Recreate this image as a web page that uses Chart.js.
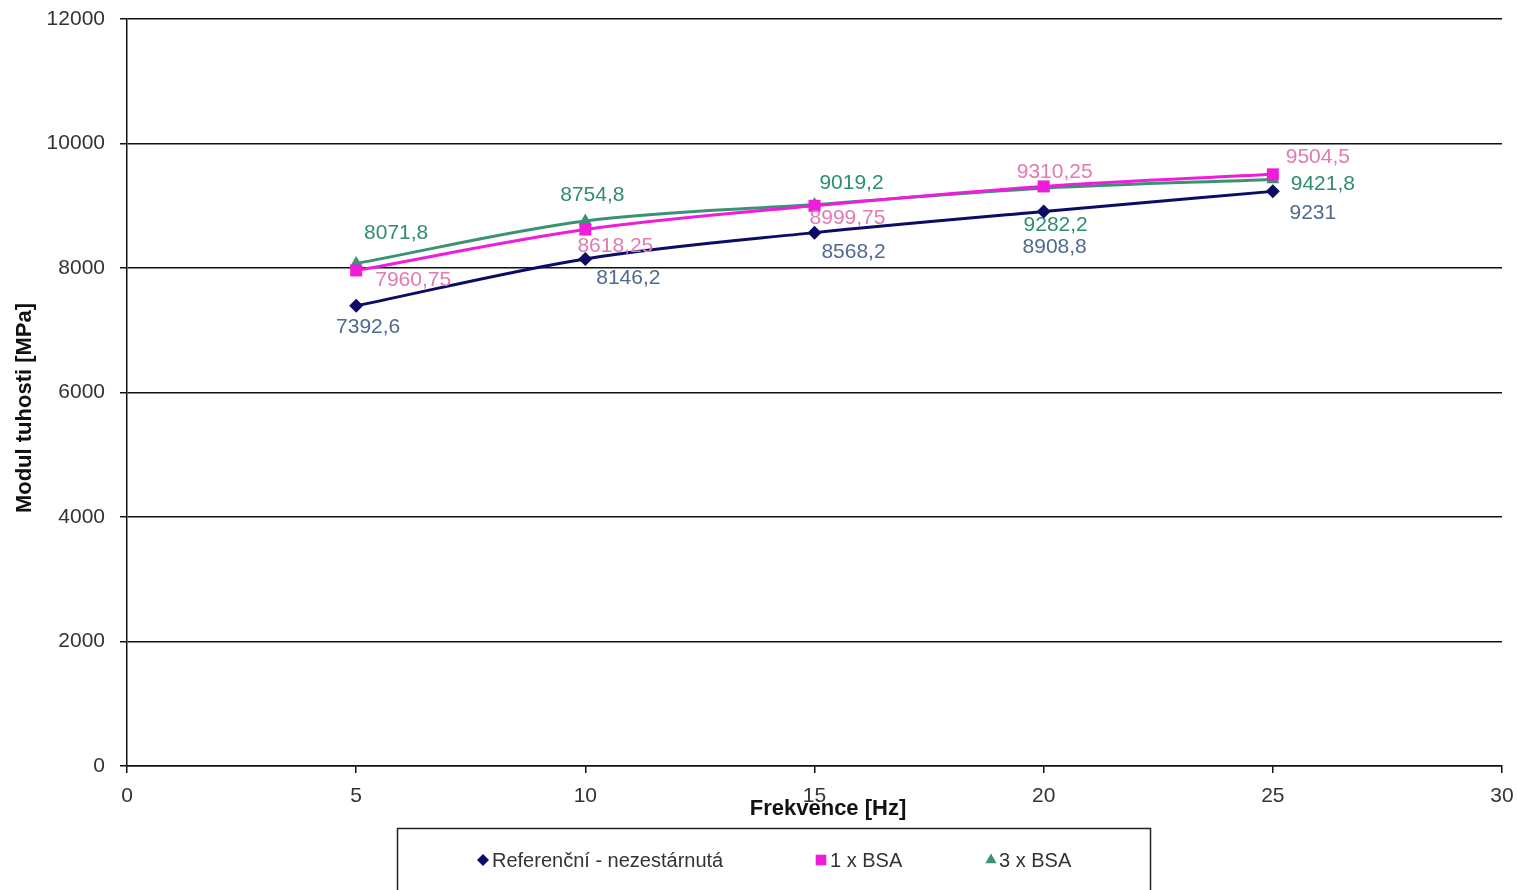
<!DOCTYPE html>
<html>
<head>
<meta charset="utf-8">
<script src="https://cdn.jsdelivr.net/npm/chart.js@4.4.1/dist/chart.umd.min.js"></script>
<style>
  html, body { margin: 0; padding: 0; background: #ffffff; }
  canvas { display: block; }
</style>
</head>
<body>
<canvas id="chart" width="1517" height="890"></canvas>
<script>
// Frequency sweep results: stiffness modulus per ageing condition
const frequencies = [5, 10, 15, 20, 25];
const referenceValues = [7392.6, 8146.2, 8568.2, 8908.8, 9231];
const bsa1Values = [7960.75, 8618.25, 8999.75, 9310.25, 9504.5];
const bsa3Values = [8071.8, 8754.8, 9019.2, 9282.2, 9421.8];
const seriesNames = ['Referenční - nezestárnutá', '1 x BSA', '3 x BSA'];
const xTickValues = [0, 5, 10, 15, 20, 25, 30];
const yTickValues = [0, 2000, 4000, 6000, 8000, 10000, 12000];
const xAxisTitle = 'Frekvence [Hz]';
const yAxisTitle = 'Modul tuhosti [MPa]';

// Styling
const lineColors = ['#0c0c66', '#f01cdc', '#3a9272'];
const labelColors = ['#4f6a8e', '#e27ab2', '#2e8e6b'];
const pointStyles = ['rectRot', 'rect', 'triangle'];
const pointRadii = [7, 8.5, 7.5];
// where each value label sits relative to its point, in px
const labelOffsets = [
  [[12, 21], [43, 19], [39, 20], [11, 36], [40, 22]],
  [[57, 10], [30, 17], [33, 12], [11, -14], [45, -17]],
  [[40, -30], [7, -26], [37, -21], [12, 37], [50, 5]]
];

const FONT = "'Liberation Sans', Arial, sans-serif";
const TEXT = '#333333';
const fmt = v => String(v).replace('.', ',');

function makeSeries(idx, values, order) {
  return {
    label: seriesNames[idx],
    data: frequencies.map((f, i) => ({ x: f, y: values[i] })),
    borderColor: lineColors[idx],
    backgroundColor: lineColors[idx],
    borderWidth: 3,
    cubicInterpolationMode: 'monotone',
    pointStyle: pointStyles[idx],
    pointRadius: pointRadii[idx],
    pointBorderWidth: 0,
    pointHoverRadius: pointRadii[idx],
    order: order
  };
}

// Value labels next to each point
const valueLabels = {
  id: 'valueLabels',
  afterDatasetsDraw(chart) {
    const ctx = chart.ctx;
    ctx.save();
    ctx.font = '21px ' + FONT;
    ctx.textAlign = 'center';
    ctx.textBaseline = 'middle';
    chart.data.datasets.forEach((ds, di) => {
      const meta = chart.getDatasetMeta(di);
      ctx.fillStyle = labelColors[di];
      meta.data.forEach((pt, i) => {
        const [dx, dy] = labelOffsets[di][i];
        ctx.fillText(fmt(ds.data[i].y), pt.x + dx, pt.y + dy);
      });
    });
    ctx.restore();
  }
};

// Axis titles
const axisTitles = {
  id: 'axisTitles',
  afterDraw(chart) {
    const ctx = chart.ctx;
    ctx.save();
    ctx.font = 'bold 22px ' + FONT;
    ctx.fillStyle = '#111';
    ctx.textAlign = 'center';
    ctx.textBaseline = 'middle';
    ctx.fillText(xAxisTitle, 828, 809);
    ctx.translate(25, 408);
    ctx.rotate(-Math.PI / 2);
    ctx.fillText(yAxisTitle, 0, 0);
    ctx.restore();
  }
};

// Boxed legend under the axis title
const boxedLegend = {
  id: 'boxedLegend',
  afterDraw(chart) {
    const ctx = chart.ctx;
    ctx.save();
    ctx.strokeStyle = '#222';
    ctx.lineWidth = 1.5;
    ctx.strokeRect(397.5, 828.5, 753, 80);
    ctx.font = '20px ' + FONT;
    ctx.textBaseline = 'middle';
    ctx.textAlign = 'left';
    const items = [
      { mx: 483, tx: 492, r: 6 },
      { mx: 821, tx: 830, r: 7.5 },
      { mx: 991, tx: 999, r: 6.5 }
    ];
    chart.data.datasets.forEach((ds, i) => {
      const it = items[i];
      ctx.fillStyle = lineColors[i];
      ctx.strokeStyle = lineColors[i];
      Chart.helpers.drawPoint(ctx, { pointStyle: pointStyles[i], radius: it.r, rotation: 0, borderWidth: 0 }, it.mx, 860);
      ctx.fillStyle = TEXT;
      ctx.fillText(ds.label, it.tx, 861);
    });
    ctx.restore();
  }
};

new Chart(document.getElementById('chart'), {
  type: 'line',
  data: {
    datasets: [
      makeSeries(0, referenceValues, 2),
      makeSeries(1, bsa1Values, 0),
      makeSeries(2, bsa3Values, 1)
    ]
  },
  options: {
    responsive: false,
    animation: false,
    layout: { padding: { top: 19, right: 15, left: 0, bottom: 0 } },
    plugins: {
      legend: { display: false },
      tooltip: { enabled: false }
    },
    scales: {
      x: {
        type: 'linear',
        min: 0,
        max: 30,
        afterBuildTicks: s => { s.ticks = xTickValues.map(v => ({ value: v })); },
        afterFit: s => { s.height = 124; s.paddingLeft = 0; s.paddingRight = 0; },
        ticks: {
          font: { family: FONT, size: 21 },
          color: TEXT,
          padding: 11,
          maxRotation: 0,
          callback: v => String(v)
        },
        grid: { drawOnChartArea: false, drawTicks: true, tickLength: 7, color: '#111', lineWidth: 1.5 },
        border: { display: true, color: '#111', width: 1.5 },
        title: { display: false }
      },
      y: {
        min: 0,
        max: 12000,
        afterBuildTicks: s => { s.ticks = yTickValues.map(v => ({ value: v })); },
        afterFit: s => { s.width = 127; s.paddingTop = 0; s.paddingBottom = 0; },
        ticks: {
          font: { family: FONT, size: 21 },
          color: TEXT,
          padding: 15,
          callback: v => String(v)
        },
        grid: { drawOnChartArea: true, drawTicks: true, tickLength: 7, color: '#111', lineWidth: 1.5 },
        border: { display: true, color: '#111', width: 1.5 },
        title: { display: false }
      }
    }
  },
  plugins: [valueLabels, axisTitles, boxedLegend]
});
</script>
</body>
</html>
